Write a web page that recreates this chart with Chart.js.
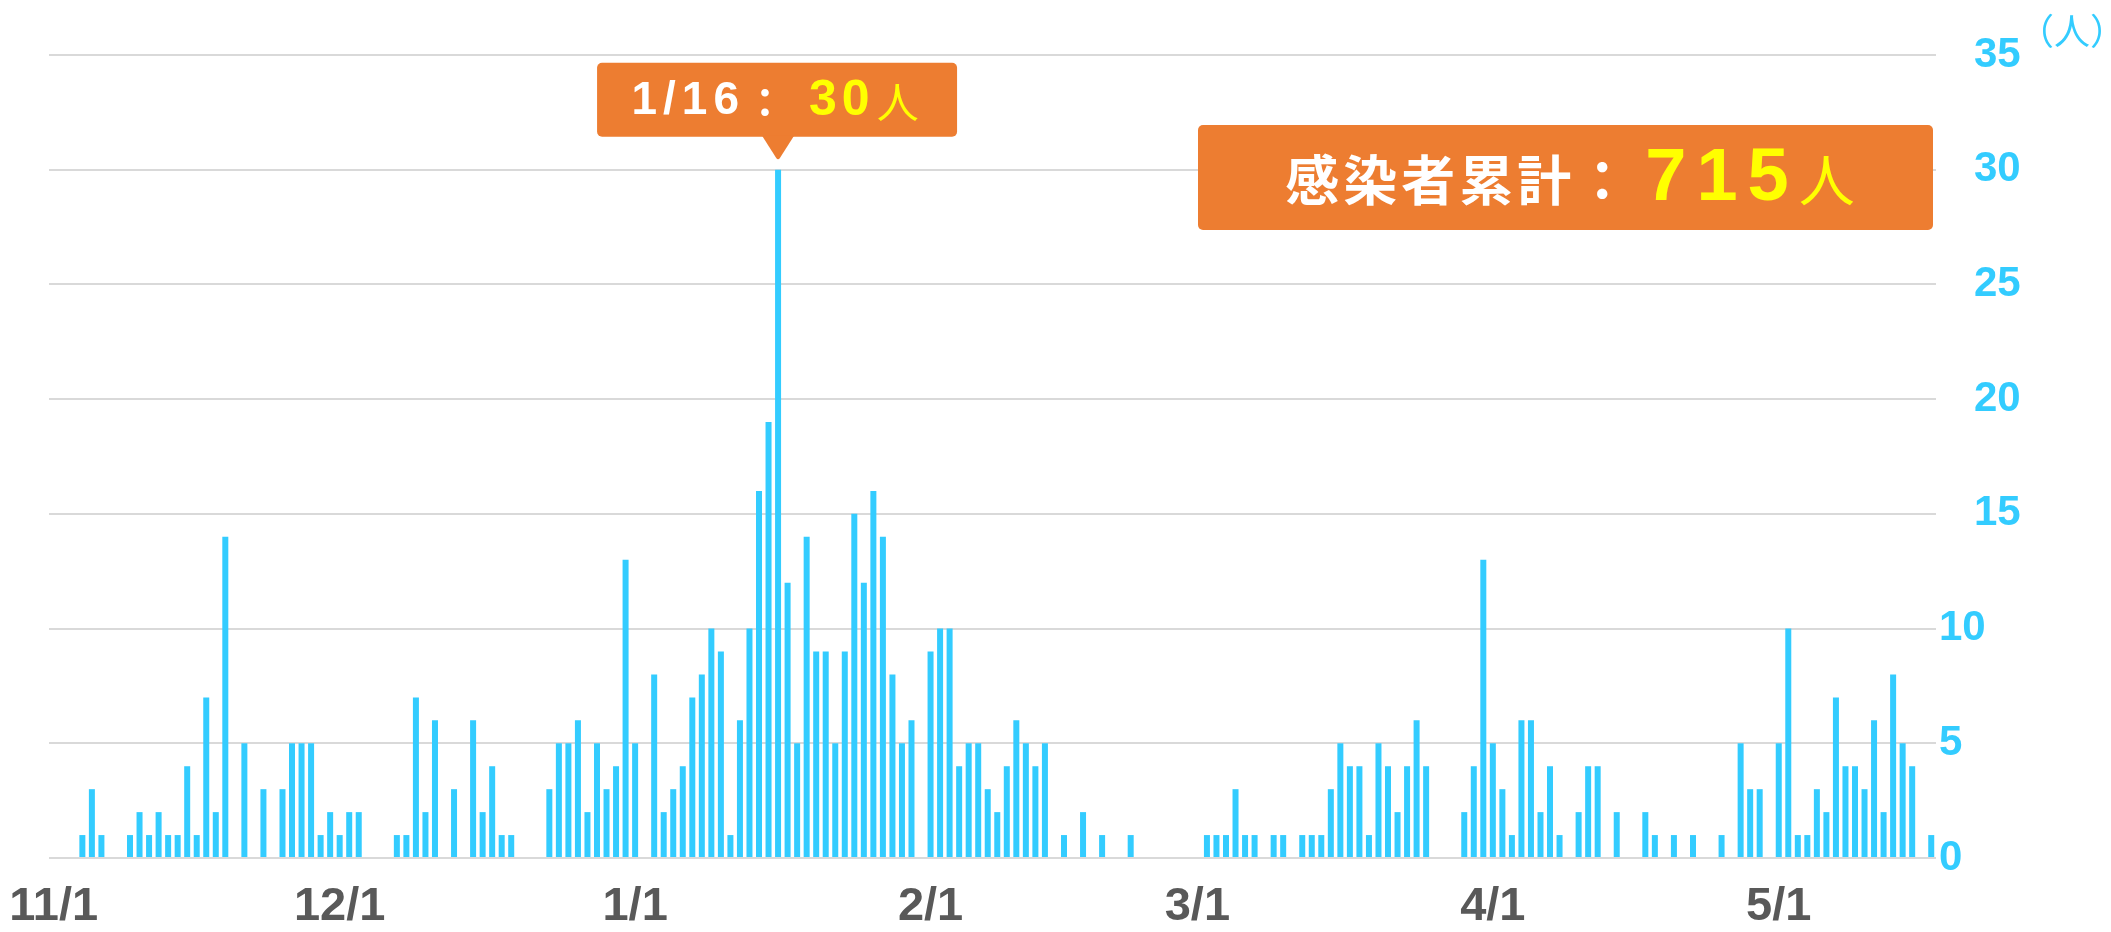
<!DOCTYPE html>
<html>
<head>
<meta charset="utf-8">
<script src="https://cdn.jsdelivr.net/npm/chart.js@4/dist/chart.umd.min.js"></script>
<style>
  html, body { margin: 0; padding: 0; background: #fff; }
  #wrap { width: 2111px; height: 932px; }
</style>
</head>
<body>
<div id="wrap"><canvas id="casesChart" width="2111" height="932"></canvas></div>
<script>
// daily new cases, one array per month (11/1 - 5/17)
const novCases = [0,0,0,1,3,1,0,0,1,2,1,2,1,1,4,1,7,2,14,0,5,0,3,0,3,5,5,5,1,2];
const decCases = [1,2,2,0,0,0,1,1,7,2,6,0,3,0,6,2,4,1,1,0,0,0,3,5,5,6,2,5,3,4,13];
const janCases = [5,0,8,2,3,4,7,8,10,9,1,6,10,16,19,30,12,5,14,9,9,5,9,15,12,16,14,8,5,6,0];
const febCases = [9,10,10,4,5,5,3,2,4,6,5,4,5,0,1,0,2,0,1,0,0,1,0,0,0,0,0,0];
const marCases = [0,1,1,1,3,1,1,0,1,1,0,1,1,1,3,5,4,4,1,5,4,2,4,6,4,0,0,0,2,4,13];
const aprCases = [5,3,1,6,6,2,4,1,0,2,4,4,0,2,0,0,2,1,0,1,0,1,0,0,1,0,5,3,3,0];
const mayCases = [5,10,1,1,3,2,7,4,4,3,6,2,8,5,4,0,1];

const months = [11, 12, 1, 2, 3, 4, 5];
const monthCases = [novCases, decCases, janCases, febCases, marCases, aprCases, mayCases];
const yTicks = [0, 5, 10, 15, 20, 25, 30, 35];

const peakLabel = '1/16';
const totalCases = 715;

// category labels "m/d" and the flat series built from the month arrays
const labels = [];
const cases = [];
months.forEach(function(m, k) {
    monthCases[k].forEach(function(v, i) {
        labels.push(m + '/' + (i + 1));
        cases.push(v);
    });
});

const ORANGE = '#ED7D31';
const YELLOW = '#FFFF00';
const BLUE = '#33CCFF';
const CJK = "'Noto Sans CJK JP', 'Noto Sans CJK SC', sans-serif";
const LAT = "'Liberation Sans', Arial, sans-serif";

function roundRect(ctx, x, y, w, h, r) {
    ctx.beginPath();
    ctx.moveTo(x + r, y);
    ctx.arcTo(x + w, y, x + w, y + h, r);
    ctx.arcTo(x + w, y + h, x, y + h, r);
    ctx.arcTo(x, y + h, x, y, r);
    ctx.arcTo(x, y, x + w, y, r);
    ctx.closePath();
}

// draw several text runs side by side, centred on cx
function drawRuns(ctx, runs, cx, cy) {
    let total = 0;
    runs.forEach(function(r) {
        ctx.font = r.font;
        ctx.letterSpacing = (r.spacing || 0) + 'px';
        r.w = ctx.measureText(r.text).width + (r.gap || 0);
        total += r.w;
    });
    let x = cx - total / 2;
    ctx.textAlign = 'left';
    ctx.textBaseline = 'middle';
    runs.forEach(function(r) {
        ctx.font = r.font;
        ctx.letterSpacing = (r.spacing || 0) + 'px';
        ctx.fillStyle = r.color;
        ctx.fillText(r.text, x + (r.gap || 0), cy);
        x += r.w;
    });
    ctx.letterSpacing = '0px';
}

const callouts = {
    id: 'callouts',
    afterDraw: function(chart) {
        const ctx = chart.ctx;
        ctx.save();

        // peak tooltip above the 1/16 bar
        const idx = labels.indexOf(peakLabel);
        const bar = chart.getDatasetMeta(0).data[idx];
        const bw = 360, bh = 74;
        const tipY = bar.y - 10;
        const boxBottom = tipY - 23;
        const boxLeft = bar.x - 181;
        ctx.fillStyle = ORANGE;
        roundRect(ctx, boxLeft, boxBottom - bh, bw, bh, 5);
        ctx.fill();
        ctx.beginPath();
        ctx.moveTo(bar.x - 16, boxBottom - 1);
        ctx.lineTo(bar.x + 16, boxBottom - 1);
        ctx.lineTo(bar.x + 2, tipY - 2);
        ctx.quadraticCurveTo(bar.x, tipY + 1, bar.x - 2, tipY - 2);
        ctx.closePath();
        ctx.fill();
        drawRuns(ctx, [
            { text: peakLabel, font: 'bold 46px ' + LAT, color: '#fff', spacing: 6 },
            { text: '：', font: 'bold 40px ' + CJK, color: '#fff' },
            { text: String(cases[idx]), font: 'bold 50px ' + LAT, color: YELLOW, spacing: 5, gap: 24 },
            { text: '人', font: '42px ' + CJK, color: YELLOW, gap: 2 }
        ], boxLeft + bw / 2 - 2, boxBottom - bh / 2 + 2);

        // cumulative total box
        ctx.fillStyle = ORANGE;
        roundRect(ctx, 1198, 125, 735, 105, 5);
        ctx.fill();
        drawRuns(ctx, [
            { text: '感染者累計', font: 'bold 54px ' + CJK, color: '#fff', spacing: 4 },
            { text: '：', font: 'bold 54px ' + CJK, color: '#fff' },
            { text: String(totalCases), font: 'bold 74px ' + LAT, color: YELLOW, spacing: 10, gap: 16 },
            { text: '人', font: '56px ' + CJK, color: YELLOW }
        ], 1570, 180);

        // unit label
        ctx.font = '36px ' + CJK;
        ctx.fillStyle = BLUE;
        ctx.textAlign = 'center';
        ctx.textBaseline = 'middle';
        ctx.fillText('（人）', 2072, 31);
        ctx.restore();
    }
};

const canvas = document.getElementById('casesChart');
new Chart(canvas, {
    type: 'bar',
    data: {
        labels: labels,
        datasets: [{
            label: '感染者数',
            data: cases,
            backgroundColor: BLUE,
            borderWidth: 0,
            barPercentage: 0.63,
            categoryPercentage: 1.0
        }]
    },
    options: {
        responsive: false,
        animation: false,
        layout: { padding: { left: 49, top: 55, right: 0, bottom: 0 } },
        plugins: {
            legend: { display: false },
            tooltip: { enabled: false }
        },
        scales: {
            x: {
                offset: true,
                grid: { display: false, drawTicks: false },
                border: { display: false },
                ticks: {
                    autoSkip: false,
                    maxRotation: 0,
                    padding: 21,
                    color: '#595959',
                    font: { family: LAT, size: 47, weight: 'bold' },
                    callback: function(value, index) {
                        const l = labels[index];
                        return l.endsWith('/1') ? l : '';
                    }
                },
                afterFit: function(scale) {
                    scale.height = 74;
                    scale.paddingLeft = 0;
                    scale.paddingRight = 0;
                }
            },
            y: {
                position: 'right',
                min: 0,
                max: yTicks[yTicks.length - 1],
                afterBuildTicks: function(scale) {
                    scale.ticks = yTicks.map(function(v) { return { value: v }; });
                },
                grid: { color: '#d9d9d9', lineWidth: 2, drawTicks: false },
                border: { display: false },
                ticks: {
                    padding: 3,
                    color: BLUE,
                    font: { family: LAT, size: 42, weight: 'bold' },
                    callback: function(value) {
                        return value >= 15 ? '   ' + value : String(value);
                    }
                },
                afterFit: function(scale) {
                    scale.width = 175;
                    scale.paddingTop = 0;
                    scale.paddingBottom = 0;
                }
            }
        }
    },
    plugins: [callouts]
});
</script>
</body>
</html>
